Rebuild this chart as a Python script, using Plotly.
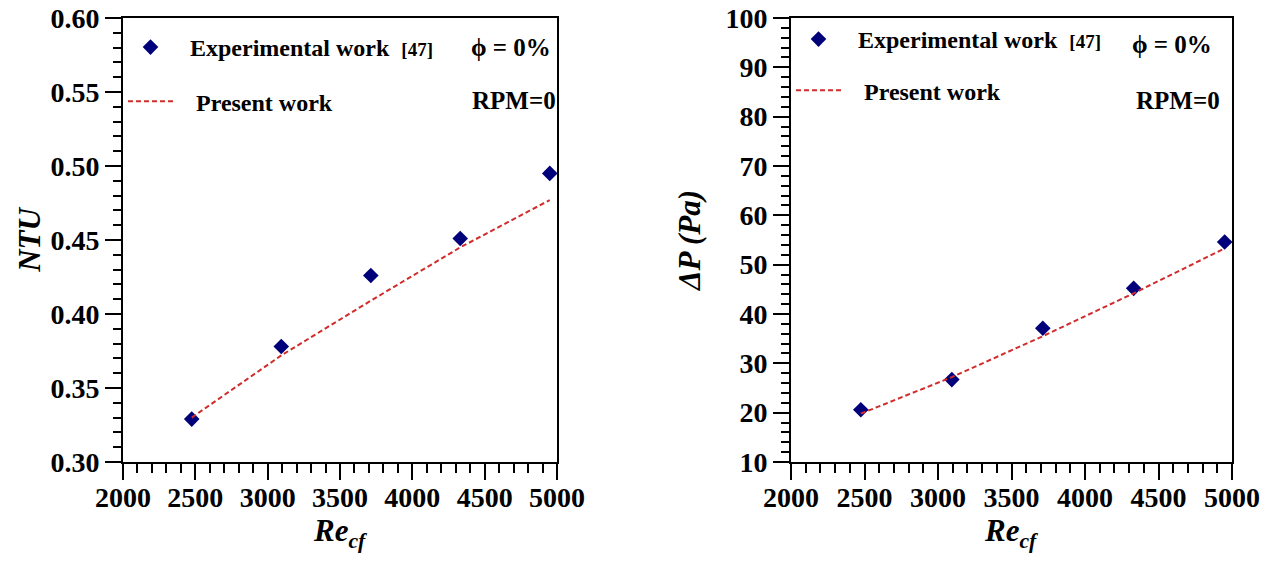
import plotly.graph_objects as go

re_cf = [2475, 3094, 3713, 4331, 4950]
ntu_exp = [0.329, 0.378, 0.426, 0.451, 0.495]
ntu_present = [0.330, 0.372, 0.409, 0.445, 0.477]
dp_exp = [20.6, 26.7, 37.1, 45.2, 54.6]
dp_present = [19.8, 27.2, 35.5, 44.2, 53.3]

FONT = "Liberation Serif"
NAVY = "#00007A"
RED = "#D02C2C"

fig = go.Figure()

exp_name = ("&nbsp;&nbsp;<b>Experimental work</b>&nbsp;&nbsp;"
            "<b><span style='font-size:19px'>[47]</span></b>")
pres_name = "&nbsp;&nbsp;&nbsp;<b>Present work</b>"

# left panel
fig.add_trace(go.Scatter(x=re_cf, y=ntu_exp, mode="markers", name=exp_name,
                         marker=dict(symbol="diamond", size=12, color=NAVY),
                         xaxis="x", yaxis="y", legend="legend", legendgroup="a"))
fig.add_trace(go.Scatter(x=re_cf, y=ntu_present, mode="lines", name=pres_name,
                         line=dict(color=RED, width=2, dash="5px,3px"),
                         xaxis="x", yaxis="y", legend="legend", legendgroup="b"))
# right panel
fig.add_trace(go.Scatter(x=re_cf, y=dp_exp, mode="markers", name=exp_name,
                         marker=dict(symbol="diamond", size=12, color=NAVY),
                         xaxis="x2", yaxis="y2", legend="legend2", legendgroup="c"))
fig.add_trace(go.Scatter(x=re_cf, y=dp_present, mode="lines", name=pres_name,
                         line=dict(color=RED, width=2, dash="5px,3px"),
                         xaxis="x2", yaxis="y2", legend="legend2", legendgroup="d"))

tickfont = dict(family=FONT, size=28, color="black", weight="bold")
titlefont = dict(family=FONT, size=31, color="black", weight="bold", style="italic")

def xaxis(domain, anchor):
    return dict(domain=domain, anchor=anchor, range=[2000, 5000],
                tickvals=[2000, 2500, 3000, 3500, 4000, 4500, 5000],
                ticks="outside", ticklen=16, tickwidth=2, tickcolor="black",
                ticklabelstandoff=-7,
                showline=True, linewidth=2, linecolor="black", mirror=True,
                showgrid=False, zeroline=False, tickfont=tickfont, automargin=False,
                minor=dict(dtick=100, ticks="outside", ticklen=9, tickwidth=2,
                           tickcolor="black", showgrid=False))

def yaxis(domain, anchor, rng, dtick, minor, fmt, title, standoff):
    return dict(domain=domain, anchor=anchor, range=rng, dtick=dtick, tick0=rng[0],
                tickformat=fmt,
                ticks="outside", ticklen=16, tickwidth=2, tickcolor="black",
                showline=True, linewidth=2, linecolor="black", mirror=True,
                showgrid=False, zeroline=False, tickfont=tickfont, automargin=False,
                minor=dict(dtick=minor, ticks="outside", ticklen=8, tickwidth=2,
                           tickcolor="black", showgrid=False),
                title=dict(text=title, font=titlefont, standoff=standoff))

ydom = [1 - 462 / 564, 1 - 18 / 564]
xd1 = [123 / 1273, 557 / 1273]
xd2 = [791 / 1273, 1232 / 1273]

legfont = dict(family=FONT, size=24, color="black")

fig.update_layout(
    width=1273, height=564,
    margin=dict(l=0, r=0, t=0, b=0),
    paper_bgcolor="white", plot_bgcolor="white",
    xaxis=xaxis(xd1, "y"),
    yaxis=yaxis(ydom, "x", [0.30, 0.60], 0.05, 0.01, ".2f", "NTU", 1),
    xaxis2=xaxis(xd2, "y2"),
    yaxis2=yaxis(ydom, "x2", [10, 100], 10, 2, "d", "ΔP (Pa)", 16),
    legend=dict(x=xd1[0] + 0.0, y=1 - 25 / 564, xanchor="left", yanchor="top",
                font=legfont, bgcolor="rgba(0,0,0,0)", borderwidth=0,
                tracegroupgap=20, itemwidth=45, traceorder="grouped"),
    legend2=dict(x=xd2[0] + 0.0, y=1 - 17 / 564, xanchor="left", yanchor="top",
                 font=legfont, bgcolor="rgba(0,0,0,0)", borderwidth=0,
                 tracegroupgap=17, itemwidth=45, traceorder="grouped"),
    showlegend=True,
)

# x-axis titles
for xd in [xd1, xd2]:
    fig.add_annotation(x=(xd[0] + xd[1]) / 2, y=1 - 511 / 564, xref="paper", yref="paper",
                       text="<b><i>Re<sub>cf</sub></i></b>", showarrow=False,
                       xanchor="center", yanchor="top", font=titlefont)

ann_font = dict(family=FONT, size=25, color="black")
panels = [(553, 47, 558, 100), (1214, 44, 1222, 100)]
for phx, phy, rpx, rpy in panels:
    fig.add_annotation(x=phx / 1273, y=1 - phy / 564, xref="paper", yref="paper",
                       text="<b>ϕ = 0%</b>", showarrow=False, xanchor="right",
                       yanchor="middle", font=ann_font)
    fig.add_annotation(x=rpx / 1273, y=1 - rpy / 564, xref="paper", yref="paper",
                       text="<b>RPM=0</b>", showarrow=False, xanchor="right",
                       yanchor="middle", font=ann_font)

fig.write_html("out.html")
